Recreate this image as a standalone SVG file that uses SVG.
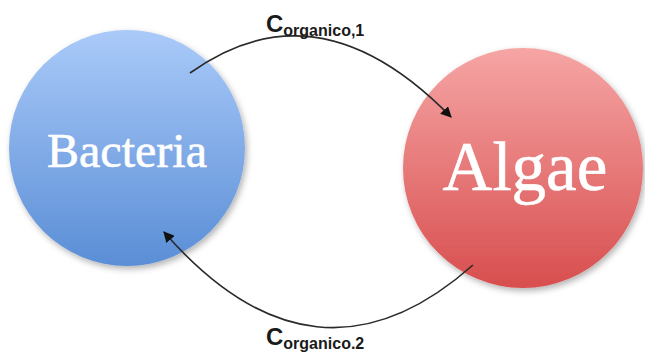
<svg xmlns="http://www.w3.org/2000/svg" width="645" height="354" viewBox="0 0 645 354">
  <defs>
    <linearGradient id="gBlue" x1="0" y1="0" x2="0" y2="1">
      <stop offset="0" stop-color="#aacaf9"/>
      <stop offset="1" stop-color="#5a8ed6"/>
    </linearGradient>
    <linearGradient id="gRed" x1="0" y1="0" x2="0" y2="1">
      <stop offset="0" stop-color="#f6a5a5"/>
      <stop offset="1" stop-color="#d84e4e"/>
    </linearGradient>
    <filter id="shadow" x="-20%" y="-20%" width="140%" height="140%">
      <feDropShadow dx="2" dy="3" stdDeviation="3" flood-color="#000" flood-opacity="0.3"/>
    </filter>
    <marker id="arrow" viewBox="0 0 10 10" refX="9" refY="5" markerWidth="11" markerHeight="11" markerUnits="userSpaceOnUse" orient="auto">
      <path d="M0,0 L10,5 L0,10 z" fill="#111"/>
    </marker>
  </defs>
  <style>
    .node-label { font-family: "Liberation Serif", "Times New Roman", serif; fill: #ffffff; stroke: #ffffff; stroke-width: 0.6; text-anchor: middle; }
    .edge { fill: none; stroke: #2a2a2a; stroke-width: 1.6; marker-end: url(#arrow); }
    .lbl { font-family: "Liberation Sans", Arial, sans-serif; font-weight: bold; fill: #1a1a1a; }
  </style>
  <rect width="645" height="354" fill="#ffffff"/>
  <g id="bacteria">
    <circle cx="127" cy="148" r="118" fill="url(#gBlue)" filter="url(#shadow)"/>
    <text class="node-label" x="127" y="167" font-size="48">Bacteria</text>
  </g>
  <g id="algae">
    <circle cx="523" cy="168" r="120" fill="url(#gRed)" filter="url(#shadow)"/>
    <text class="node-label" x="525" y="190" font-size="69">Algae</text>
  </g>
  <g id="connectors">
    <path class="edge" d="M190,73 Q318,-19 451,117"/>
    <path class="edge" d="M473,265 Q315,405 164,232"/>
  </g>
  <g id="labels">
    <text class="lbl" x="266" y="32" font-size="24">C<tspan font-size="16" dy="4">organico,1</tspan></text>
    <text class="lbl" x="266" y="345" font-size="24">C<tspan font-size="16" dy="4">organico.2</tspan></text>
  </g>
</svg>
